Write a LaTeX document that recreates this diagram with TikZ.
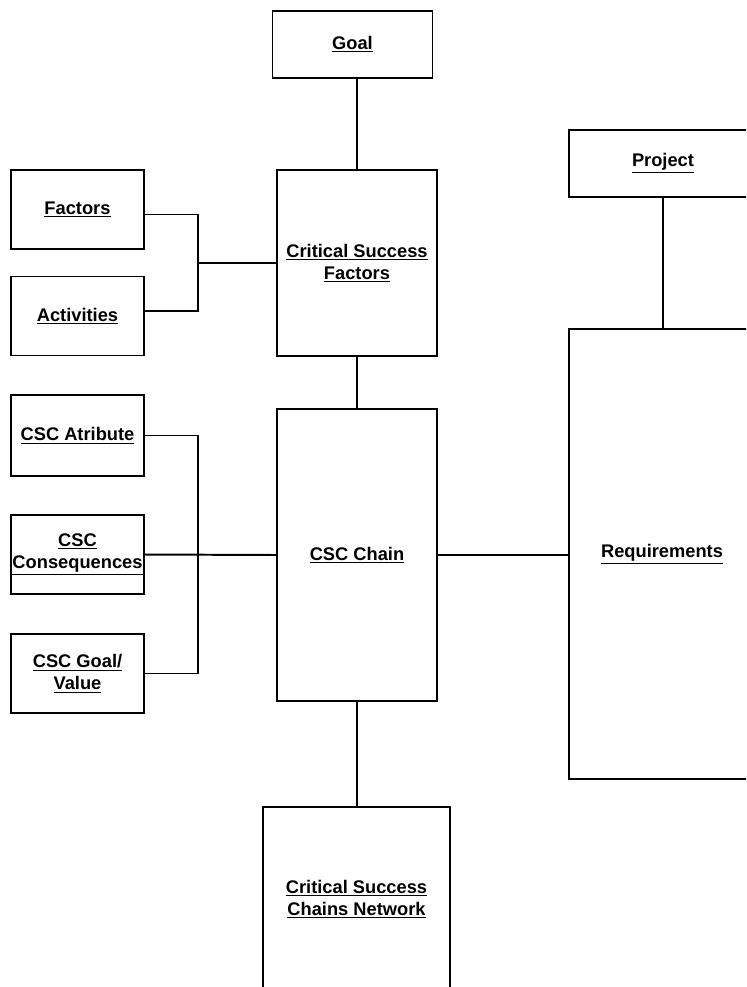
\documentclass[tikz,border=0pt]{standalone}
\usepackage{fontspec}
\setmainfont{Liberation Sans}
\usepackage{tikz}
\usetikzlibrary{arrows.meta}
\usetikzlibrary{positioning}
\newdimen\px
\px=0.025cm
\tikzset{x=0.025cm, y=-0.025cm, % One unit is one pixel of the drawing
         every box/.style={   % Sets the properties for each box
           rectangle,
           draw,
           line width=1.4pt,
           inner sep=0pt,
           outer sep=0pt,
           align=center,
           font=\fontsize{13}{15.8}\selectfont\bfseries},
         link/.style={        % Sets the properties for each connector
           -,
           line width=1.4pt}}

\begin{document}
\begin{tikzpicture}
\clip (0,0) rectangle (746,987);
\begin{scope}[every node/.style={every box}]
    \node[minimum width=160\px, minimum height=67\px] (G) at (352.5,44.5) {\underline{Goal}};
    \node[minimum width=160\px, minimum height=186\px] (CSF) at (357,263) {\underline{Critical Success}\\\underline{Factors}};
    \node[minimum width=133\px, minimum height=79\px] (F) at (77.5,209.5) {\underline{Factors}};
    \node[minimum width=133\px, minimum height=79\px] (A) at (77.5,316) {\underline{Activities}};
    \node[minimum width=133\px, minimum height=81\px] (CA) at (77.5,435.5) {\underline{CSC Atribute}};
    \node[minimum width=133\px, minimum height=79\px] (CC) at (77.5,554.5) {\underline{CSC}\\\underline{Consequences}};
    \node[minimum width=133\px, minimum height=79\px] (CG) at (77.5,673.5) {\underline{CSC Goal/}\\\underline{Value}};
    \node[minimum width=160\px, minimum height=292\px] (CH) at (357,555) {\underline{CSC Chain}};
    \node[minimum width=187\px, minimum height=184\px] (N) at (356.5,899) {\underline{Critical Success}\\\underline{Chains Network}};
    \node[minimum width=188\px, minimum height=67\px] (P) at (663,163.5) {\underline{Project}};
    \node[minimum width=186\px, minimum height=450\px] (R) at (662,554) {\underline{Requirements}};
\end{scope}

\coordinate (B1) at (198,263);
\coordinate (B2) at (198,554.5);

\begin{scope}[link]
    \draw (CSF.north) -- (CSF.north |- G.south);
    \draw ([yshift=-5\px]F.east) -| (B1) |- ([yshift=5\px]A.east);
    \draw (B1) -- (CSF.west);
    \draw (CSF.south) -- (CH.north);
    \draw (CA) -| (B2) |- (CG);
    \draw (CC.east) -- (CH.west);
    \draw (CH.east) -- (R.west |- CH.east);
    \draw (P.south) -- (P.south |- R.north);
    \draw (CH.south) -- (CH.south |- N.north);
\end{scope}
\end{tikzpicture}
\end{document}
